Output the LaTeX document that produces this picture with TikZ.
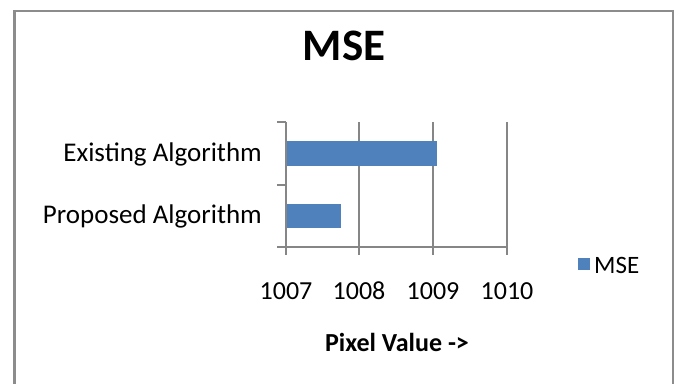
\documentclass[tikz,border=0pt]{standalone}
\usepackage{fontspec}
\setmainfont{Carlito}
\definecolor{barblue}{HTML}{4F81BD}
\definecolor{framegray}{HTML}{8C8C8C}
\definecolor{axisgray}{HTML}{868686}
\begin{document}
\begin{tikzpicture}[x=1pt,y=-1pt,
  frameline/.style={draw=framegray,line width=2.2pt},
  axisline/.style={draw=axisgray,line width=1.5pt},
  gridline/.style={draw=axisgray,line width=1.5pt},
  bar/.style={fill=barblue,draw=none},
  catlabel/.style={anchor=east,font=\fontsize{27}{30}\selectfont,inner sep=0pt},
  ticklabel/.style={anchor=center,font=\fontsize{26}{30}\selectfont,inner sep=0pt},
  titlelabel/.style={anchor=center,font=\fontsize{45}{50}\bfseries\selectfont,inner sep=0pt},
  axtitle/.style={anchor=center,font=\fontsize{26}{30}\bfseries\selectfont,inner sep=0pt},
  legtext/.style={anchor=west,font=\fontsize{25}{28}\selectfont,inner sep=0pt}]
\useasboundingbox (0,0) rectangle (679,383);
% frame
\draw[frameline] (14.5,395) -- (14.5,11) -- (673,11) -- (673,395);
% title
\node[titlelabel] (title) at (344,46) {MSE};
% gridlines
\coordinate (g0t) at (286,122); \coordinate (g0b) at (286,255);
\draw[gridline] (359,122) -- (359,255);
\draw[gridline] (433,122) -- (433,255);
\draw[gridline] (507,122) -- (507,255);
% bars
\node[bar,minimum width=151pt,minimum height=25pt,inner sep=0pt,anchor=west] (exist) at (286,153.5) {};
\node[bar,minimum width=55pt,minimum height=24pt,inner sep=0pt,anchor=west] (prop) at (286,216) {};
% axes
\draw[axisline] (g0t) -- (g0b);
\draw[axisline] (277,247) -- (507,247);
\draw[axisline] (277,122) -- (286,122);
\draw[axisline] (277,185) -- (286,185);
% category labels
\node[catlabel] (lexist) at (262,154) {Existing Algorithm};
\node[catlabel] (lprop) at (262,216) {Proposed Algorithm};
% tick labels
\node[ticklabel] (t1007) at (286,291) {1007};
\node[ticklabel] (t1008) at (359,291) {1008};
\node[ticklabel] (t1009) at (433,291) {1009};
\node[ticklabel] (t1010) at (507,291) {1010};
% axis title
\node[axtitle] (xtitle) at (397,342) {Pixel Value ->};
% legend
\node[bar,minimum width=12pt,minimum height=12pt,inner sep=0pt] (legsq) at (584,264) {};
\node[legtext] (legmse) at (594,265) {MSE};
\end{tikzpicture}
\end{document}
